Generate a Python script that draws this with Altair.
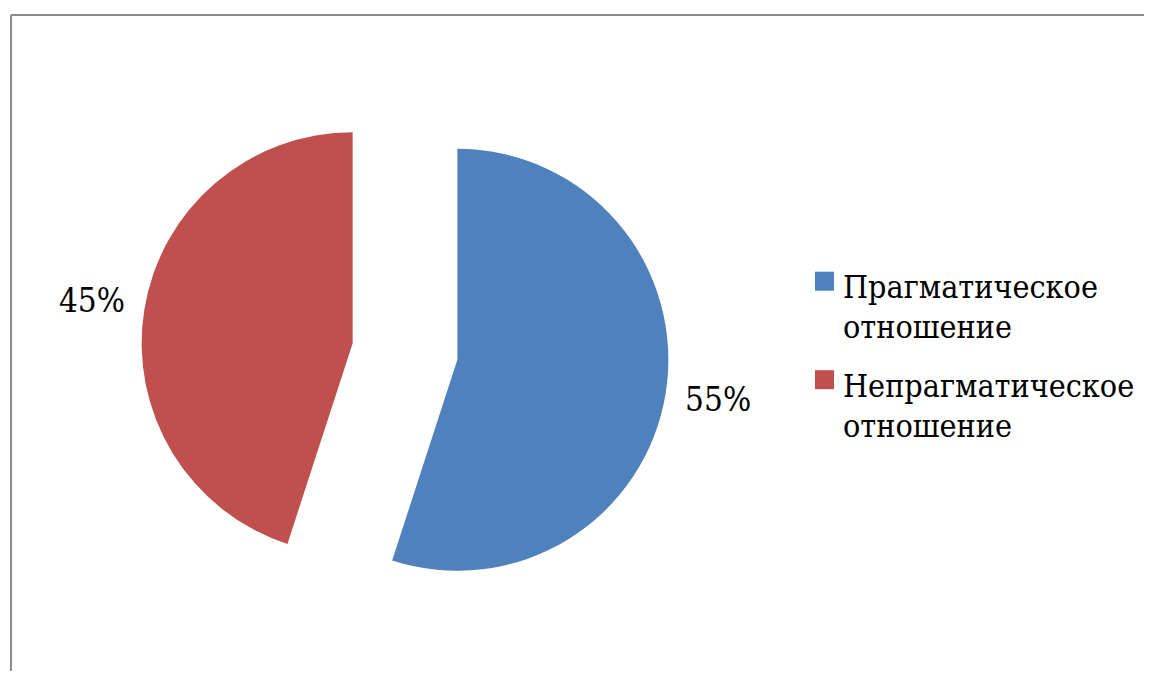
import altair as alt
import pandas as pd

categories = ["Прагматическое отношение", "Непрагматическое отношение"]
values = [55, 45]
order = [0, 1]
colors = ["#4F81BD", "#C0504D"]

df = pd.DataFrame({"category": categories, "value": values, "order": order})

W, H = 1136, 663
CX, CY = 397, 343.5
EXPLODE = 53
R = 211
LABEL_R = 264
FONT = "DejaVu Serif Condensed"

LEG_X, LEG_Y, LEG_STEP = 816.5, 273.2, 98.5

base = (
    alt.Chart(df)
    .transform_window(cum="sum(value)", sort=[alt.SortField("order")])
    .transform_joinaggregate(total="sum(value)")
    .transform_calculate(
        t0="(datum.cum - datum.value) / datum.total * 2 * PI",
        t1="datum.cum / datum.total * 2 * PI",
    )
    .transform_calculate(mid="(datum.t0 + datum.t1) / 2")
    .transform_calculate(
        cx=f"{CX} + {EXPLODE} * sin(datum.mid)",
        cy=f"{CY} - {EXPLODE} * cos(datum.mid)",
    )
    .transform_calculate(
        lx=f"datum.cx + {LABEL_R} * sin(datum.mid)",
        ly=f"datum.cy - {LABEL_R} * cos(datum.mid)",
        label="datum.value + '%'",
        sy=f"{LEG_Y} + datum.order * {LEG_STEP}",
    )
    .transform_calculate(ty="datum.sy + 17", tx=f"{LEG_X} + 18.5")
)

color_enc = alt.Color(
    "category:N",
    scale=alt.Scale(domain=categories, range=colors),
    sort=categories,
    legend=None,
)

arcs = base.mark_arc(outerRadius=R).encode(
    theta=alt.Theta("t0:Q", scale=None),
    theta2="t1:Q",
    x=alt.X("cx:Q", scale=None, axis=None),
    y=alt.Y("cy:Q", scale=None, axis=None),
    color=color_enc,
)

labels = base.mark_text(font=FONT, fontSize=33, color="#000000").encode(
    x=alt.X("lx:Q", scale=None, axis=None),
    y=alt.Y("ly:Q", scale=None, axis=None),
    text="label:N",
)

legend_symbols = base.mark_square(size=361, opacity=1, strokeWidth=0).encode(
    x=alt.value(LEG_X),
    y=alt.Y("sy:Q", scale=None, axis=None),
    color=color_enc,
)

legend_text = base.mark_text(
    font=FONT,
    fontSize=32,
    color="#000000",
    align="left",
    baseline="alphabetic",
    lineBreak=" ",
    lineHeight=40,
).encode(
    x=alt.X("tx:Q", scale=None, axis=None),
    y=alt.Y("ty:Q", scale=None, axis=None),
    text="category:N",
)

frame_df = pd.DataFrame({"k": [0]})
frame_left = alt.Chart(frame_df).mark_rule(color="#8C8C8C", strokeWidth=2).encode(
    x=alt.value(3), y=alt.value(7), y2=alt.value(H + 10)
)
frame_top = alt.Chart(frame_df).mark_rule(color="#8C8C8C", strokeWidth=2).encode(
    x=alt.value(3), x2=alt.value(W + 10), y=alt.value(7)
)

chart = (
    alt.layer(frame_left, frame_top, arcs, labels, legend_symbols, legend_text)
    .properties(
        width=W,
        height=H,
        padding=0,
        autosize=alt.AutoSizeParams(type="fit", contains="padding"),
        background="#FFFFFF",
    )
    .configure_view(stroke=None)
)

chart.save("out.html", embed_options={"renderer": "svg", "actions": False})
